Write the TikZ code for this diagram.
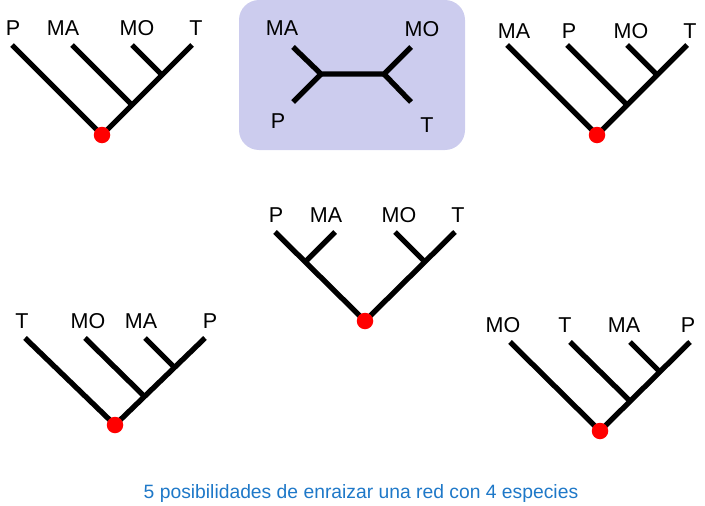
\documentclass[tikz,border=0pt]{standalone}
\usepackage{fontspec}
\setmainfont{Liberation Sans}
\begin{document}
\begin{tikzpicture}[x=1pt,y=-1pt,
  branch/.style={line width=5.3pt,black},
  rootdot/.style={circle,fill=red,inner sep=0pt,minimum size=16.5pt},
  lbl/.style={anchor=base,inner sep=0pt,font=\fontsize{21.5}{25}\selectfont},
  caption/.style={anchor=base,inner sep=0pt,text={rgb,255:red,30;green,120;blue,200},font=\fontsize{19.3}{23}\selectfont},
  panel/.style={fill={rgb,255:red,204;green,204;blue,238},rounded corners=20pt}]
\useasboundingbox (0,0) rectangle (705,506);

% unrooted panel
\fill[panel] (239,0) rectangle (465,150);
\coordinate (uMA) at (293,47);
\coordinate (uP) at (293,102);
\coordinate (uMO) at (411,47);
\coordinate (uT) at (411,102);
\coordinate (u1) at (321,74);
\coordinate (u2) at (384,74);
\draw[branch] (uMA) -- (u1) -- (u2) -- (uMO);
\draw[branch] (uP) -- (u1);
\draw[branch] (uT) -- (u2);
\node[lbl] (luMA) at (282,35) {MA};
\node[lbl] (luMO) at (422,36) {MO};
\node[lbl] (luP) at (278,128) {P};
\node[lbl] (luT) at (427,132) {T};

% tree 1: P (MA (MO T))
\coordinate (aP) at (12,45);
\coordinate (aMA) at (72,45);
\coordinate (aMO) at (132,45);
\coordinate (aT) at (192,45);
\coordinate (aR) at (102,135);
\coordinate (a1) at (132,105);
\coordinate (a2) at (162,75);
\draw[branch] (aP) -- (aR) -- (aT);
\draw[branch] (aMA) -- (a1);
\draw[branch] (aMO) -- (a2);
\node[rootdot] (aroot) at (aR) {};
\node[lbl] (laP) at (13,35) {P};
\node[lbl] (laMA) at (63,35) {MA};
\node[lbl] (laMO) at (137,35) {MO};
\node[lbl] (laT) at (196,35) {T};

% tree 2: MA (P (MO T))
\coordinate (bMA) at (507,45);
\coordinate (bP) at (567,45);
\coordinate (bMO) at (627,45);
\coordinate (bT) at (687,45);
\coordinate (bR) at (597,135);
\coordinate (b1) at (627,105);
\coordinate (b2) at (657,75);
\draw[branch] (bMA) -- (bR) -- (bT);
\draw[branch] (bP) -- (b1);
\draw[branch] (bMO) -- (b2);
\node[rootdot] (broot) at (bR) {};
\node[lbl] (lbMA) at (514,38) {MA};
\node[lbl] (lbP) at (569,38) {P};
\node[lbl] (lbMO) at (631,38) {MO};
\node[lbl] (lbT) at (690,38) {T};

% tree 3: (P MA) (MO T)
\coordinate (cP) at (275,232);
\coordinate (cMA) at (335,232);
\coordinate (cMO) at (395,232);
\coordinate (cT) at (455,232);
\coordinate (cR) at (365,321);
\coordinate (c1) at (305,262);
\coordinate (c2) at (425,262);
\draw[branch] (cP) -- (cR) -- (cT);
\draw[branch] (cMA) -- (c1);
\draw[branch] (cMO) -- (c2);
\node[rootdot] (croot) at (cR) {};
\node[lbl] (lcP) at (276,222) {P};
\node[lbl] (lcMA) at (326,222) {MA};
\node[lbl] (lcMO) at (399,222) {MO};
\node[lbl] (lcT) at (458,222) {T};

% tree 4: T (MO (MA P))
\coordinate (dT) at (25,338);
\coordinate (dMO) at (85,338);
\coordinate (dMA) at (145,338);
\coordinate (dP) at (205,338);
\coordinate (dR) at (115,425);
\coordinate (d1) at (144,396);
\coordinate (d2) at (174,367);
\draw[branch] (dT) -- (dR) -- (dP);
\draw[branch] (dMO) -- (d1);
\draw[branch] (dMA) -- (d2);
\node[rootdot] (droot) at (dR) {};
\node[lbl] (ldT) at (22,328) {T};
\node[lbl] (ldMO) at (88,328) {MO};
\node[lbl] (ldMA) at (141,328) {MA};
\node[lbl] (ldP) at (210,328) {P};

% tree 5: MO (T (MA P))
\coordinate (eMO) at (510,342);
\coordinate (eT) at (570,342);
\coordinate (eMA) at (630,342);
\coordinate (eP) at (690,342);
\coordinate (eR) at (600,431);
\coordinate (e1) at (630,401);
\coordinate (e2) at (660,372);
\draw[branch] (eMO) -- (eR) -- (eP);
\draw[branch] (eT) -- (e1);
\draw[branch] (eMA) -- (e2);
\node[rootdot] (eroot) at (eR) {};
\node[lbl] (leMO) at (503,332) {MO};
\node[lbl] (leT) at (565,332) {T};
\node[lbl] (leMA) at (624,332) {MA};
\node[lbl] (leP) at (688,332) {P};

\node[caption] (cap) at (361,498) {5 posibilidades de enraizar una red con 4 especies};
\end{tikzpicture}
\end{document}
